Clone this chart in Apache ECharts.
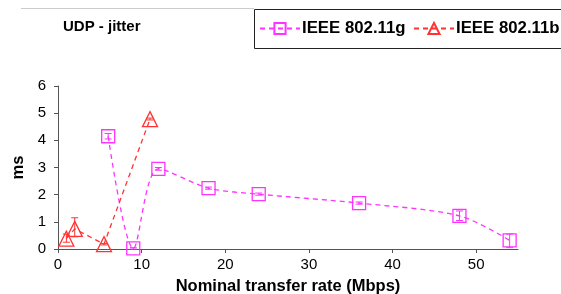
<!DOCTYPE html>
<html><head><meta charset="utf-8">
<script src="https://cdn.jsdelivr.net/npm/echarts@6/dist/echarts.min.js"></script>
<style>html,body{margin:0;padding:0;background:#fff}#c{width:561px;height:294px}</style>
</head><body><div id="c"></div>
<script>
const gRates = [6, 9, 12, 18, 24, 36, 48, 54];
const gJitter = [4.15, 0.02, 2.95, 2.24, 2.02, 1.69, 1.22, 0.32];
const gErrLow = [4.05, 0.0, 2.9, 2.2, 1.98, 1.65, 1.05, 0.05];
const gErrHigh = [4.25, 0.05, 3.0, 2.28, 2.06, 1.73, 1.4, 0.55];
const bRates = [1, 2, 5.5, 11];
const bJitter = [0.38, 0.74, 0.18, 4.78];
const bErrLow = [0.25, 0.45, 0.15, 4.75];
const bErrHigh = [0.55, 1.15, 0.2, 4.82];
const xTicks = [0, 10, 20, 30, 40, 50];
const seriesNames = ['IEEE 802.11g', 'IEEE 802.11b'];

const G = '#ff33ff', B = '#ff3333';
const font = 'Liberation Sans, Arial, sans-serif';
function errData(xs, lo, hi) { return xs.map((x, i) => [x, lo[i], hi[i]]); }
function errRender(color) {
  return function (params, api) {
    const x = api.value(0);
    const p1 = api.coord([x, api.value(1)]);
    const p2 = api.coord([x, api.value(2)]);
    const w = 3.5;
    const st = { stroke: color, lineWidth: 1 };
    return { type: 'group', children: [
      { type: 'line', shape: { x1: p1[0], y1: p1[1], x2: p2[0], y2: p2[1] }, style: st },
      { type: 'line', shape: { x1: p1[0] - w, y1: p1[1], x2: p1[0] + w, y2: p1[1] }, style: st },
      { type: 'line', shape: { x1: p2[0] - w, y1: p2[1], x2: p2[0] + w, y2: p2[1] }, style: st }
    ]};
  };
}
const legendBase = {
  top: 20, padding: 0, itemWidth: 40, itemHeight: 14,
  textStyle: { fontFamily: font, fontSize: 16.8, fontWeight: 'bold', color: '#000', padding: [0, 0, 0, -3] }
};
const chart = echarts.init(document.getElementById('c'));
chart.setOption({
  animation: false,
  backgroundColor: '#fff',
  title: { text: 'UDP - jitter', left: 58, top: 14, textStyle: { fontFamily: font, fontSize: 15, fontWeight: 'bold', color: '#000' } },
  graphic: [
    { type: 'line', shape: { x1: 21, y1: 8.5, x2: 254, y2: 8.5 }, style: { stroke: '#ccc', lineWidth: 1 } },
    { type: 'rect', shape: { x: 254.5, y: 9.5, width: 340, height: 39 }, style: { fill: 'none', stroke: '#222', lineWidth: 1 } }
  ],
  legend: [
    Object.assign({}, legendBase, { left: 259, data: [seriesNames[0]] }),
    Object.assign({}, legendBase, { left: 413, data: [seriesNames[1]] })
  ],
  grid: { left: 58, right: 43, top: 86, bottom: 45, outerBoundsMode: 'none' },
  xAxis: {
    type: 'value', min: 0, max: 55, interval: 10,
    name: 'Nominal transfer rate (Mbps)', nameLocation: 'middle', nameGap: 29,
    nameTextStyle: { fontFamily: font, fontSize: 16.5, fontWeight: 'bold', color: '#000' },
    axisLine: { lineStyle: { color: '#555', width: 1 } },
    axisTick: { length: 4, lineStyle: { color: '#555' }, customValues: xTicks },
    axisLabel: { fontFamily: font, fontSize: 15, color: '#000', margin: 8, customValues: xTicks },
    splitLine: { show: false }
  },
  yAxis: {
    type: 'value', min: 0, max: 6, interval: 1,
    name: 'ms', nameLocation: 'middle', nameGap: 25,
    nameTextStyle: { fontFamily: font, fontSize: 16.5, fontWeight: 'bold', color: '#000' },
    axisLine: { show: true, lineStyle: { color: '#555', width: 1 } },
    axisTick: { show: true, length: 4, lineStyle: { color: '#555' } },
    axisLabel: { fontFamily: font, fontSize: 15, color: '#000', margin: 12 },
    splitLine: { show: false }
  },
  series: [
    { name: seriesNames[0], type: 'line', data: gRates.map((x, i) => [x, gJitter[i]]), smooth: 0.3,
      symbol: 'rect', symbolSize: 13,
      lineStyle: { color: G, type: [5, 4], width: 1.3 },
      itemStyle: { color: 'rgba(255,255,255,0)', borderColor: G, borderWidth: 1.3 }, z: 3 },
    { name: seriesNames[1], type: 'line', data: bRates.map((x, i) => [x, bJitter[i]]),
      symbol: 'triangle', symbolSize: 15,
      lineStyle: { color: B, type: [5, 4], width: 1.3 },
      itemStyle: { color: 'rgba(255,255,255,0)', borderColor: B, borderWidth: 1.3 }, z: 3 },
    { type: 'custom', renderItem: errRender(G), data: errData(gRates, gErrLow, gErrHigh), encode: { x: 0, y: [1, 2] }, z: 4 },
    { type: 'custom', renderItem: errRender(B), data: errData(bRates, bErrLow, bErrHigh), encode: { x: 0, y: [1, 2] }, z: 4 }
  ]
});
</script></body></html>
